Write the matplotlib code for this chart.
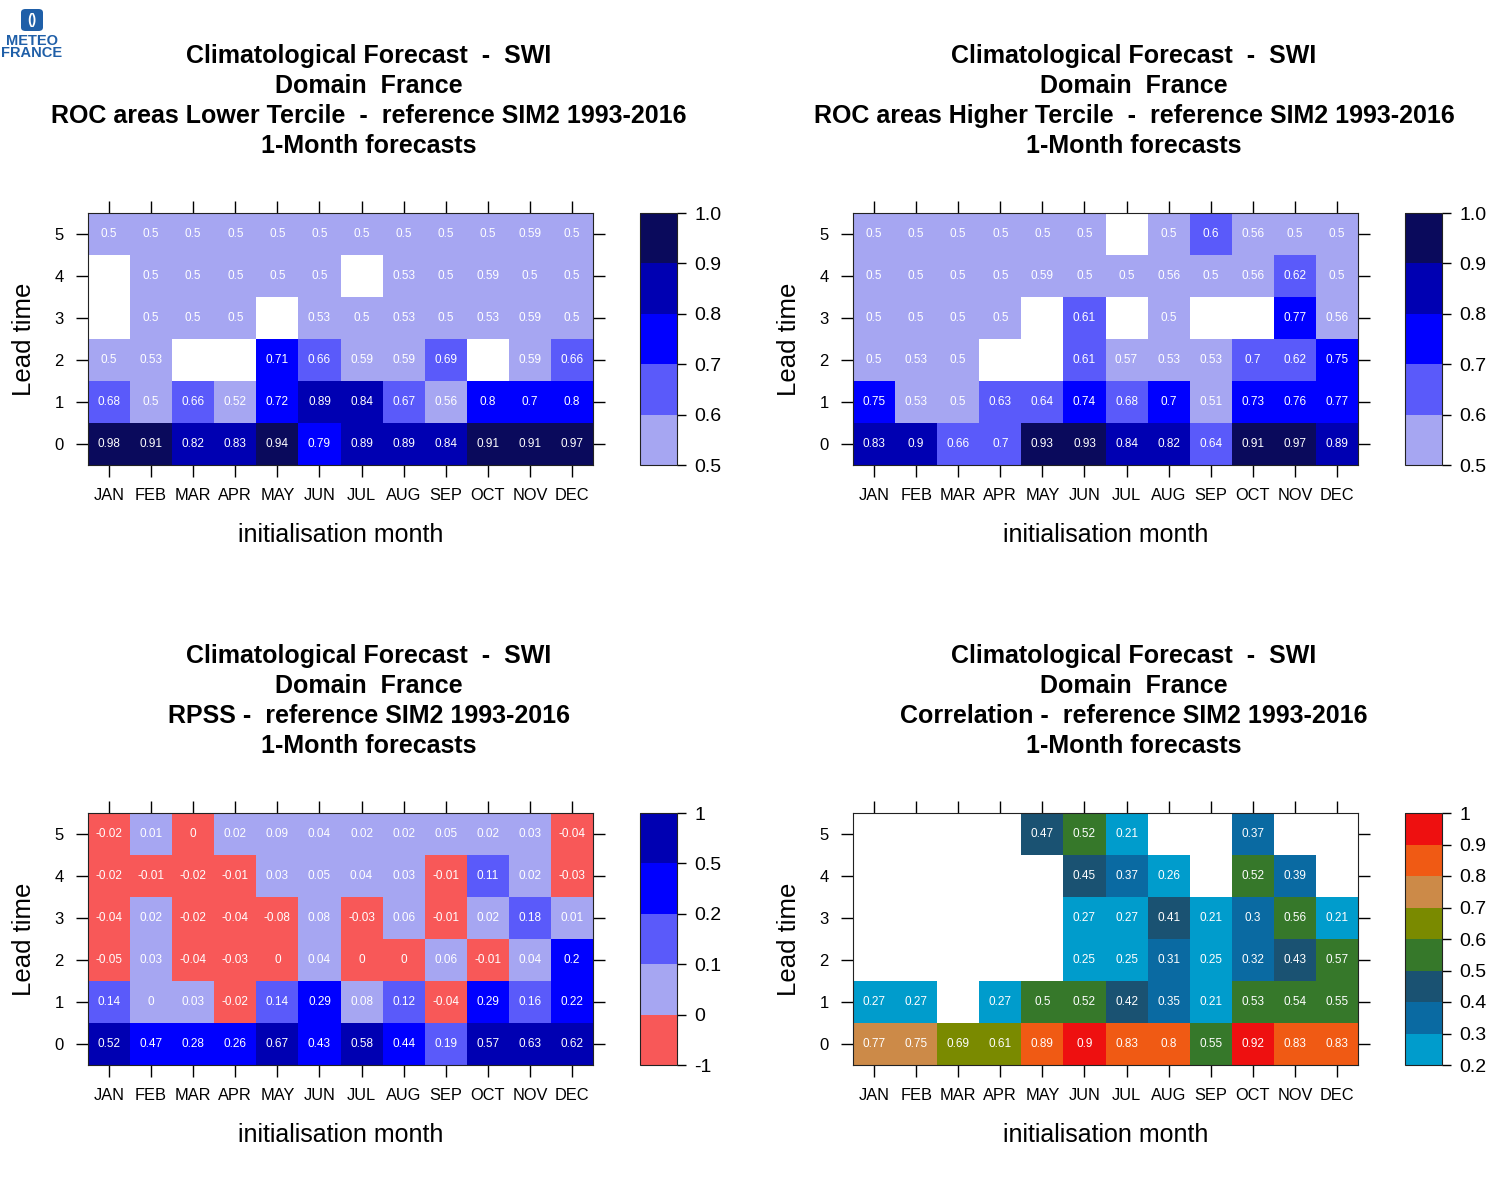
#!/usr/bin/env python3
# Climatological forecast scores (SWI, France) - four score tables by
# initialisation month and lead time

import numpy as np
import matplotlib
matplotlib.use("Agg")
import matplotlib.pyplot as plt
from matplotlib.colors import ListedColormap, BoundaryNorm
from matplotlib.patches import FancyBboxPatch

plt.rcParams['font.family'] = ['Liberation Sans', 'DejaVu Sans']

nan = np.nan
months = ['JAN', 'FEB', 'MAR', 'APR', 'MAY', 'JUN', 'JUL', 'AUG', 'SEP', 'OCT', 'NOV', 'DEC']
lead_times = [0, 1, 2, 3, 4, 5]

# rows = lead time 0..5, columns = JAN..DEC
roc_lower = [
    [0.98, 0.91, 0.82, 0.83, 0.94, 0.79, 0.89, 0.89, 0.84, 0.91, 0.91, 0.97],
    [0.68, 0.5, 0.66, 0.52, 0.72, 0.89, 0.84, 0.67, 0.56, 0.798, 0.702, 0.798],
    [0.5, 0.53, nan, nan, 0.71, 0.66, 0.59, 0.59, 0.69, nan, 0.59, 0.66],
    [nan, 0.5, 0.5, 0.5, nan, 0.53, 0.5, 0.53, 0.5, 0.53, 0.59, 0.5],
    [nan, 0.5, 0.5, 0.5, 0.5, 0.5, nan, 0.53, 0.5, 0.59, 0.5, 0.5],
    [0.5, 0.5, 0.5, 0.5, 0.5, 0.5, 0.5, 0.5, 0.5, 0.5, 0.59, 0.5],
]

roc_higher = [
    [0.83, 0.898, 0.66, 0.698, 0.93, 0.93, 0.84, 0.82, 0.64, 0.91, 0.97, 0.89],
    [0.75, 0.53, 0.5, 0.63, 0.64, 0.74, 0.68, 0.702, 0.51, 0.73, 0.76, 0.77],
    [0.5, 0.53, 0.5, nan, nan, 0.61, 0.57, 0.53, 0.53, 0.698, 0.62, 0.75],
    [0.5, 0.5, 0.5, 0.5, nan, 0.61, nan, 0.5, nan, nan, 0.77, 0.56],
    [0.5, 0.5, 0.5, 0.5, 0.59, 0.5, 0.5, 0.56, 0.5, 0.56, 0.62, 0.5],
    [0.5, 0.5, 0.5, 0.5, 0.5, 0.5, nan, 0.5, 0.602, 0.56, 0.5, 0.5],
]

rpss = [
    [0.52, 0.47, 0.28, 0.26, 0.67, 0.43, 0.58, 0.44, 0.19, 0.57, 0.63, 0.62],
    [0.14, 0.0, 0.03, -0.02, 0.14, 0.29, 0.08, 0.12, -0.04, 0.29, 0.16, 0.22],
    [-0.05, 0.03, -0.04, -0.03, -0.004, 0.04, -0.004, -0.004, 0.06, -0.01, 0.04, 0.2],
    [-0.04, 0.02, -0.02, -0.04, -0.08, 0.08, -0.03, 0.06, -0.01, 0.02, 0.18, 0.01],
    [-0.02, -0.01, -0.02, -0.01, 0.03, 0.05, 0.04, 0.03, -0.01, 0.11, 0.02, -0.03],
    [-0.02, 0.01, -0.004, 0.02, 0.09, 0.04, 0.02, 0.02, 0.05, 0.02, 0.03, -0.04],
]

correlation = [
    [0.77, 0.75, 0.69, 0.61, 0.89, 0.9, 0.83, 0.8, 0.55, 0.92, 0.83, 0.83],
    [0.27, 0.27, nan, 0.27, 0.5, 0.52, 0.42, 0.35, 0.21, 0.53, 0.54, 0.55],
    [nan, nan, nan, nan, nan, 0.25, 0.25, 0.31, 0.25, 0.32, 0.43, 0.57],
    [nan, nan, nan, nan, nan, 0.27, 0.27, 0.41, 0.21, 0.3, 0.56, 0.21],
    [nan, nan, nan, nan, nan, 0.45, 0.37, 0.26, nan, 0.52, 0.39, nan],
    [nan, nan, nan, nan, 0.47, 0.52, 0.21, nan, nan, 0.37, nan, nan],
]

roc_bounds = [0.5, 0.6, 0.7, 0.8, 0.9, 1.0]
roc_colors = ['#a6a6f2', '#5a5afa', '#0000ff', '#0000b2', '#0a0a5c']
roc_ticklabels = ['0.5', '0.6', '0.7', '0.8', '0.9', '1.0']

rpss_bounds = [-1, 0, 0.1, 0.2, 0.5, 1]
rpss_colors = ['#f85858', '#a6a6f2', '#5a5afa', '#0000ff', '#0000b2']
rpss_ticklabels = ['-1', '0', '0.1', '0.2', '0.5', '1']

corr_bounds = [0.2, 0.3, 0.4, 0.5, 0.6, 0.7, 0.8, 0.9, 1.0]
corr_colors = ['#009ccc', '#0a6aa2', '#1a5272', '#36782a', '#7a8a00',
               '#cc8a48', '#f05a14', '#ee1010']
corr_ticklabels = ['0.2', '0.3', '0.4', '0.5', '0.6', '0.7', '0.8', '0.9', '1']

panels = [
    (roc_lower, 'ROC areas Lower Tercile  -  reference SIM2 1993-2016',
     roc_bounds, roc_colors, roc_ticklabels, 88, 213),
    (roc_higher, 'ROC areas Higher Tercile  -  reference SIM2 1993-2016',
     roc_bounds, roc_colors, roc_ticklabels, 853, 213),
    (rpss, 'RPSS -  reference SIM2 1993-2016',
     rpss_bounds, rpss_colors, rpss_ticklabels, 88, 813),
    (correlation, 'Correlation -  reference SIM2 1993-2016',
     corr_bounds, corr_colors, corr_ticklabels, 853, 813),
]

W, H = 1500, 1200
fig = plt.figure(figsize=(15, 12), dpi=100)
fig.patch.set_facecolor('white')


def px_axes(x, y, w, h):
    return fig.add_axes([x / W, 1 - (y + h) / H, w / W, h / H])


def fmt(v):
    s = '{:g}'.format(round(v, 2))
    return '0' if s == '-0' else s


for data, subtitle, bounds, colors, ticklabels, x0, y0 in panels:
    z = np.ma.masked_invalid(np.array(data, dtype=float))
    cmap = ListedColormap(colors)
    cmap.set_bad('white')
    norm = BoundaryNorm(bounds, cmap.N)

    ax = px_axes(x0, y0, 505, 252)
    xe = np.arange(len(months) + 1) - 0.5
    ye = np.arange(len(lead_times) + 1) - 0.5
    mesh = ax.pcolormesh(xe, ye, z, cmap=cmap, norm=norm)
    for i in range(len(lead_times)):
        for j in range(len(months)):
            if not np.ma.is_masked(z[i, j]):
                ax.text(j, i, fmt(z[i, j]), color='white', fontsize=8.5,
                        ha='center', va='center')

    ax.set_xlim(-0.5, 11.5)
    ax.set_ylim(-0.5, 5.5)
    ax.set_xticks(range(len(months)))
    ax.set_xticklabels(months)
    ax.set_yticks(lead_times)
    ax.tick_params(top=True, right=True, direction='out', length=8.6, width=1,
                   labelsize=11.8, pad=8)
    ax.tick_params(axis='y', labelsize=12, pad=9)
    for sp in ax.spines.values():
        sp.set_color('#222222')
    ax.set_xlabel('initialisation month', fontsize=18, labelpad=14)
    ax.set_ylabel('Lead time', fontsize=18.5, labelpad=13)

    cax = px_axes(x0 + 552, y0, 37, 252)
    cb = fig.colorbar(mesh, cax=cax, ticks=bounds)
    cb.ax.set_yticklabels(ticklabels)
    cb.ax.tick_params(direction='out', length=6.5, width=1, labelsize=14, pad=6)
    cb.outline.set_edgecolor('#222222')

    # four-line title
    cx = (x0 + 281) / W
    lines = ['Climatological Forecast  -  SWI', 'Domain  France', subtitle,
             '1-Month forecasts']
    for k, line in enumerate(lines):
        fig.text(cx, 1 - (y0 - 157 + 30 * k) / H, line, ha='center', va='center',
                 fontsize=18, fontweight='bold')

# Meteo-France logo (top left)
fig.patches.append(FancyBboxPatch((21 / W, 1 - 31 / H), 22 / W, 22 / H,
                                  boxstyle='round,pad=0,rounding_size=0.003',
                                  transform=fig.transFigure, facecolor='#1f5fa8',
                                  edgecolor='none'))
fig.text(32 / W, 1 - 20 / H, '()', color='white', fontsize=10, fontweight='bold',
         ha='center', va='center')
fig.text(32 / W, 1 - 41 / H, 'METEO', color='#1f5fa8', fontsize=10.5,
         fontweight='bold', ha='center', va='center')
fig.text(32 / W, 1 - 53 / H, 'FRANCE', color='#1f5fa8', fontsize=10.5,
         fontweight='bold', ha='center', va='center')

fig.savefig('out.png', dpi=100)
